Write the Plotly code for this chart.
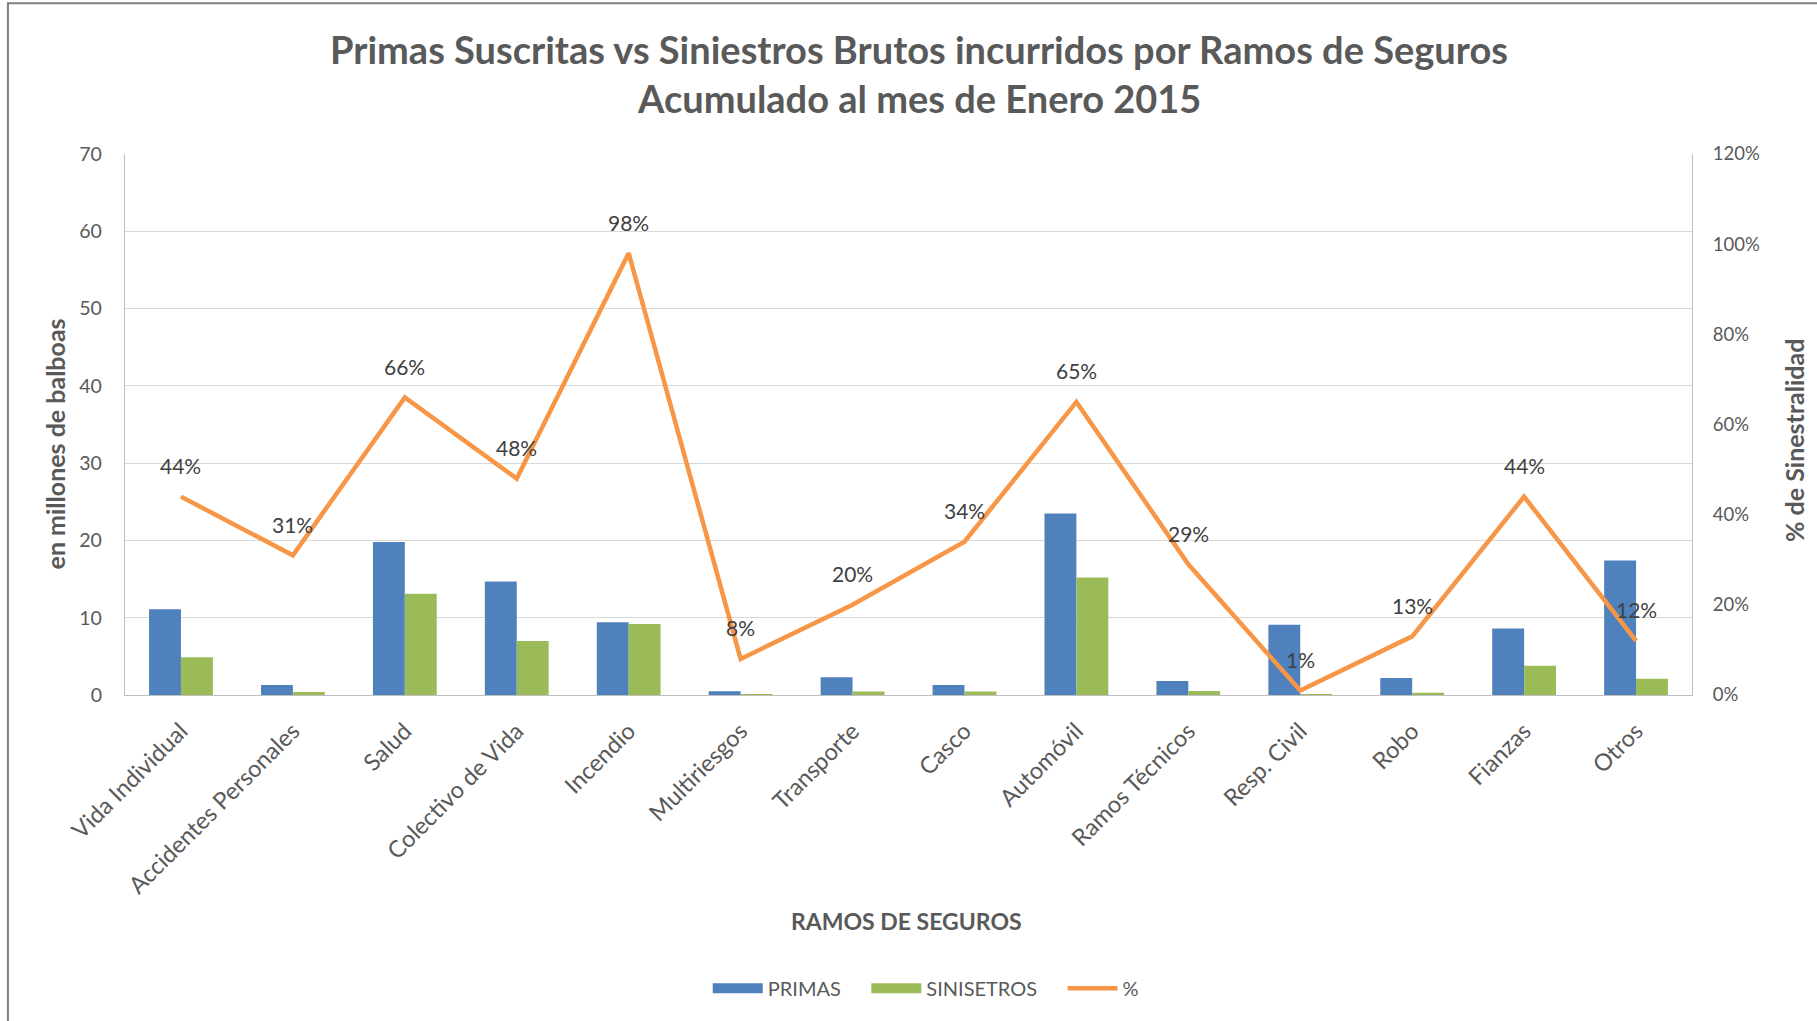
import plotly.graph_objects as go

# ---------------- data ----------------
categorias = ["Vida Individual", "Accidentes Personales", "Salud", "Colectivo de Vida",
              "Incendio", "Multiriesgos", "Transporte", "Casco", "Automóvil",
              "Ramos Técnicos", "Resp. Civil", "Robo", "Fianzas", "Otros"]
primas = [11.1, 1.3, 19.8, 14.7, 9.4, 0.5, 2.3, 1.3, 23.5, 1.8, 9.1, 2.2, 8.6, 17.4]
siniestros = [4.9, 0.4, 13.1, 7.0, 9.2, 0.04, 0.46, 0.44, 15.2, 0.52, 0.1, 0.28, 3.8, 2.1]
siniestralidad = [0.44, 0.31, 0.66, 0.48, 0.98, 0.08, 0.20, 0.34, 0.65, 0.29, 0.01, 0.13, 0.44, 0.12]
ticks_izq = [0, 10, 20, 30, 40, 50, 60, 70]
ticks_der = [0, 0.2, 0.4, 0.6, 0.8, 1.0, 1.2]

titulo_1 = "Primas Suscritas vs Siniestros Brutos incurridos por Ramos de Seguros"
titulo_2 = "Acumulado al mes de Enero 2015"

# ---------------- styles ----------------
AZUL = "#4F81BD"
VERDE = "#9BBB59"
NARANJA = "#F79646"
GRIS_TXT = "#595959"
GRIS_LBL = "#404040"
GRID = "#D9D9D9"
EJE = "#BFBFBF"
FONT = "Lato, 'Open Sans', sans-serif"
NB = "\u00a0" * 4

fig = go.Figure()

fig.add_trace(go.Bar(x=categorias, y=primas, name="PRIMAS", marker=dict(color=AZUL, line=dict(width=0)),
                     legendgroup="primas", showlegend=False, yaxis="y"))
fig.add_trace(go.Bar(x=categorias, y=siniestros, name="SINISETROS", marker=dict(color=VERDE, line=dict(width=0)),
                     legendgroup="sin", showlegend=False, yaxis="y"))
fig.add_trace(go.Scatter(x=categorias, y=siniestralidad, name="%", mode="lines",
                         line=dict(color=NARANJA, width=4.5), yaxis="y2", showlegend=False,
                         legendgroup="pct"))

# legend entries (wide swatches like the original)
fig.add_trace(go.Scatter(x=[None], y=[None], mode="lines", name="PRIMAS" + NB, legendgroup="primas",
                         line=dict(color=AZUL, width=10), hoverinfo="skip"))
fig.add_trace(go.Scatter(x=[None], y=[None], mode="lines", name="SINISETROS" + NB, legendgroup="sin",
                         line=dict(color=VERDE, width=10), hoverinfo="skip"))
fig.add_trace(go.Scatter(x=[None], y=[None], mode="lines", name="%", legendgroup="pct",
                         line=dict(color=NARANJA, width=4.5), hoverinfo="skip", yaxis="y2"))

anotaciones = []
for c, v in zip(categorias, siniestralidad):
    anotaciones.append(dict(x=c, y=v, xref="x", yref="y2", text=f"{v:.0%}", showarrow=False,
                            yshift=31, font=dict(family=FONT, size=21, color=GRIS_LBL)))

anotaciones += [
    dict(x=0.5067, y=1.194, xref="paper", yref="paper", text=titulo_1, showarrow=False,
         xanchor="center", yanchor="middle", font=dict(family=FONT, size=38, color=GRIS_TXT, weight="bold")),
    dict(x=0.5067, y=1.103, xref="paper", yref="paper", text=titulo_2, showarrow=False,
         xanchor="center", yanchor="middle", font=dict(family=FONT, size=38, color=GRIS_TXT, weight="bold")),
    dict(x=-0.045, y=0.464, xref="paper", yref="paper", text="en millones de balboas", showarrow=False,
         textangle=-90, xanchor="center", yanchor="middle",
         font=dict(family=FONT, size=25, color=GRIS_TXT, weight="bold")),
    dict(x=1.065, y=0.471, xref="paper", yref="paper", text="% de Sinestralidad", showarrow=False,
         textangle=-90, xanchor="center", yanchor="middle",
         font=dict(family=FONT, size=25, color=GRIS_TXT, weight="bold")),
    dict(x=0.499, y=-0.418, xref="paper", yref="paper", text="RAMOS DE SEGUROS", showarrow=False,
         xanchor="center", yanchor="middle",
         font=dict(family=FONT, size=23, color=GRIS_TXT, weight="bold")),
]

fig.update_layout(
    width=1817, height=1021,
    margin=dict(l=125, r=125, t=154, b=326, autoexpand=False),
    paper_bgcolor="white", plot_bgcolor="white",
    barmode="group", bargap=0.43, bargroupgap=0,
    font=dict(family=FONT, size=18, color=GRIS_TXT),
    showlegend=True,
    legend=dict(orientation="h", x=0.511, xanchor="center", y=-0.542, yanchor="middle",
                font=dict(family=FONT, size=20, color=GRIS_TXT), itemwidth=50,
                traceorder="normal", bgcolor="rgba(0,0,0,0)"),
    xaxis=dict(type="category", tickangle=-45, showline=True, linecolor=EJE, linewidth=1.3,
               ticks="", showgrid=False, tickfont=dict(family=FONT, size=23.5, color=GRIS_TXT),
               ticklabelstandoff=12),
    yaxis=dict(range=[0, 70], tickvals=ticks_izq, showgrid=True, gridcolor=GRID, gridwidth=1.3,
               showline=True, linecolor=EJE, linewidth=1.3, ticks="", zeroline=False,
               tickfont=dict(family=FONT, size=19.5, color=GRIS_TXT), ticklabelstandoff=18),
    yaxis2=dict(range=[0, 1.2], tickvals=ticks_der, tickformat=".0%", overlaying="y", side="right",
                showgrid=False, showline=True, linecolor=EJE, linewidth=1.3, ticks="", zeroline=False,
                tickfont=dict(family=FONT, size=18.5, color=GRIS_TXT), ticklabelstandoff=16),
    annotations=anotaciones,
    shapes=[dict(type="rect", xref="paper", yref="paper", x0=-0.0747, x1=1.2, y0=-0.8, y1=1.2785,
                 line=dict(color="#7F7F7F", width=2), fillcolor="rgba(0,0,0,0)", layer="above")],
)

fig.write_html("out.html", config={"displayModeBar": False},
               post_script="document.body.style.margin='0';document.body.style.overflow='hidden';")
